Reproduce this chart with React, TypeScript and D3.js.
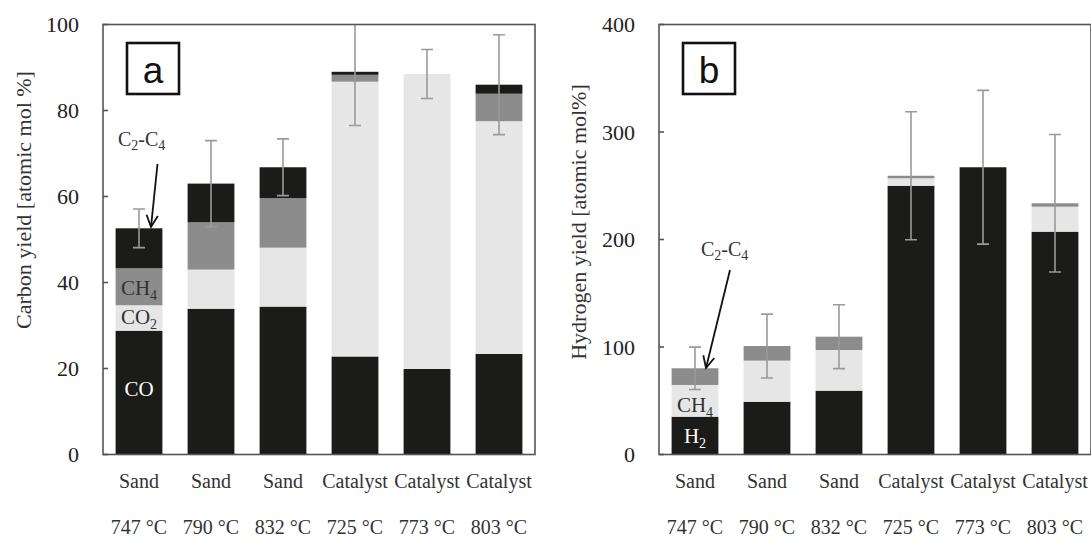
import React from "react";
import * as d3 from "d3";

const CATEGORIES = ["Sand", "Sand", "Sand", "Catalyst", "Catalyst", "Catalyst"];
const TEMPERATURES = ["747 °C", "790 °C", "832 °C", "725 °C", "773 °C", "803 °C"];

// Panel a: carbon yield [atomic mol %]
const CARBON_CO = [28.8, 33.9, 34.4, 22.8, 19.9, 23.4];
const CARBON_CO2 = [5.9, 9.1, 13.7, 63.9, 68.6, 54.1];
const CARBON_CH4 = [8.6, 11.0, 11.5, 1.6, 0, 6.4];
const CARBON_C2C4 = [9.3, 9.0, 7.2, 0.7, 0, 2.1];
const CARBON_ERR = [4.5, 10.0, 6.6, 12.5, 5.7, 11.6];
const CARBON_TICKS = [0, 20, 40, 60, 80, 100];

// Panel b: hydrogen yield [atomic mol %]
const HYDROGEN_H2 = [35.2, 49.1, 59.4, 250.0, 267.2, 207.3];
const HYDROGEN_CH4 = [29.5, 38.2, 37.8, 7.0, 0, 23.2];
const HYDROGEN_C2C4 = [15.5, 13.6, 12.4, 2.3, 0, 3.2];
const HYDROGEN_ERR = [19.7, 29.7, 29.7, 59.5, 71.5, 64.0];
const HYDROGEN_TICKS = [0, 100, 200, 300, 400];

const BLACK = "#1b1b19";
const LIGHT = "#e6e6e6";
const MID = "#8c8c8c";
const ERR = "#9a9a9a";
const FRAME = "#555";
const SERIF = "'Liberation Serif', 'Times New Roman', serif";
const SANS = "'Liberation Sans', Arial, sans-serif";

type Series = { values: number[]; color: string };
type Label = { main: string; sub: string; barIndex: number; value: number; color: string };
type Annot = { textX: number; textY: number; fromX: number; fromY: number; toX: number; toY: number };

function Panel(props: {
  id: string;
  left: number;
  right: number;
  top: number;
  bottom: number;
  yMax: number;
  ticks: number[];
  series: Series[];
  errors: number[];
  title: string;
  titleX: number;
  titleY: number;
  letter: string;
  annot: Annot;
  labels: Label[];
}) {
  const { left, right, top, bottom, yMax, ticks, series, errors } = props;
  const x = d3
    .scaleBand<number>()
    .domain(d3.range(CATEGORIES.length))
    .range([left, right])
    .paddingInner(0.35)
    .paddingOuter(0.175);
  const y = d3.scaleLinear().domain([0, yMax]).range([bottom, top]);
  const stack = d3
    .stack<number>()
    .keys(series.map((_, i) => String(i)))
    .value((idx, key) => series[+key].values[idx]);
  const stacked = stack(d3.range(CATEGORIES.length));
  const totals = d3.range(CATEGORIES.length).map((i) => d3.sum(series, (s) => s.values[i]));
  const bw = x.bandwidth();
  const cap = 6;
  const a = props.annot;
  const ang = Math.atan2(a.toY - a.fromY, a.toX - a.fromX);
  const hl = 13;
  const hw = 0.45;
  const h1 = [a.toX - hl * Math.cos(ang - hw), a.toY - hl * Math.sin(ang - hw)];
  const h2 = [a.toX - hl * Math.cos(ang + hw), a.toY - hl * Math.sin(ang + hw)];
  return (
    <g>
      <defs>
        <clipPath id={`clip-${props.id}`}>
          <rect x={left} y={top} width={right - left} height={bottom - top} />
        </clipPath>
      </defs>
      {stacked.map((layer, li) => (
        <g key={li} fill={series[li].color}>
          {layer.map((d, i) =>
            d[1] - d[0] > 0 ? (
              <rect key={i} x={x(i)} y={y(d[1])} width={bw} height={y(d[0]) - y(d[1])} />
            ) : null
          )}
        </g>
      ))}
      <g clipPath={`url(#clip-${props.id})`} stroke={ERR} strokeWidth={1.6} fill="none">
        {totals.map((t, i) => {
          const cx = (x(i) as number) + bw / 2;
          const y1 = y(t + errors[i]);
          const y2 = y(t - errors[i]);
          return (
            <g key={i}>
              <line x1={cx} x2={cx} y1={y1} y2={y2} />
              <line x1={cx - cap} x2={cx + cap} y1={y1} y2={y1} />
              <line x1={cx - cap} x2={cx + cap} y1={y2} y2={y2} />
            </g>
          );
        })}
      </g>
      <rect x={left} y={top} width={right - left} height={bottom - top} fill="none" stroke={FRAME} strokeWidth={1.6} />
      {ticks.map((t) => (
        <g key={t}>
          <line x1={left} x2={left + 5} y1={y(t)} y2={y(t)} stroke={FRAME} strokeWidth={1.6} />
          <text x={left - 24} y={y(t)} dy="0.35em" textAnchor="end" fontSize={22} fontFamily={SERIF} fill="#222">
            {t}
          </text>
        </g>
      ))}
      {CATEGORIES.map((c, i) => {
        const cx = (x(i) as number) + bw / 2;
        return (
          <g key={i} fontFamily={SERIF} fontSize={20} fill="#333" textAnchor="middle">
            <text x={cx} y={488}>{c}</text>
            <text x={cx} y={534}>{TEMPERATURES[i]}</text>
          </g>
        );
      })}
      <text
        transform={`translate(${props.titleX},${props.titleY}) rotate(-90)`}
        textAnchor="middle"
        dy="0.35em"
        fontSize={22}
        fontFamily={SERIF}
        fill="#333"
      >
        {props.title}
      </text>
      <rect x={left + 24} y={43} width={52} height={51} fill="#fff" stroke="#111" strokeWidth={2.6} />
      <text x={left + 50} y={83} textAnchor="middle" fontSize={37} fontFamily={SANS} fill="#111">
        {props.letter}
      </text>
      {props.labels.map((l, i) => (
        <text
          key={i}
          x={(x(l.barIndex) as number) + bw / 2}
          y={y(l.value)}
          textAnchor="middle"
          fontSize={21}
          fontFamily={SERIF}
          fill={l.color}
        >
          {l.main}
          {l.sub ? (
            <tspan fontSize={14} dy={5}>
              {l.sub}
            </tspan>
          ) : null}
        </text>
      ))}
      <text x={a.textX} y={a.textY} fontSize={20} fontFamily={SERIF} fill="#333">
        C<tspan fontSize={14} dy={4}>2</tspan>
        <tspan dy={-4}>-C</tspan>
        <tspan fontSize={14} dy={4}>4</tspan>
      </text>
      <line x1={a.fromX} y1={a.fromY} x2={a.toX} y2={a.toY} stroke="#111" strokeWidth={1.8} />
      <path
        d={`M${h1[0]},${h1[1]}L${a.toX},${a.toY}L${h2[0]},${h2[1]}`}
        fill="none"
        stroke="#111"
        strokeWidth={1.8}
      />
    </g>
  );
}

export default function App() {
  return (
    <div style={{ position: "absolute", left: 0, top: 0 }}>
      <svg width={1091} height={540} style={{ display: "block", background: "#fff" }}>
        <Panel
          id="a"
          left={103}
          right={535}
          top={24.5}
          bottom={454.5}
          yMax={100}
          ticks={CARBON_TICKS}
          series={[
            { values: CARBON_CO, color: BLACK },
            { values: CARBON_CO2, color: LIGHT },
            { values: CARBON_CH4, color: MID },
            { values: CARBON_C2C4, color: BLACK },
          ]}
          errors={CARBON_ERR}
          title="Carbon yield [atomic mol %]"
          titleX={23}
          titleY={200}
          letter="a"
          annot={{ textX: 118, textY: 146, fromX: 157.5, fromY: 164, toX: 151, toY: 227 }}
          labels={[
            { main: "CO", sub: "", barIndex: 0, value: 13.6, color: "#fff" },
            { main: "CO", sub: "2", barIndex: 0, value: 30.4, color: "#333" },
            { main: "CH", sub: "4", barIndex: 0, value: 37.2, color: "#333" },
          ]}
        />
        <Panel
          id="b"
          left={659}
          right={1091}
          top={24.5}
          bottom={454.5}
          yMax={400}
          ticks={HYDROGEN_TICKS}
          series={[
            { values: HYDROGEN_H2, color: BLACK },
            { values: HYDROGEN_CH4, color: LIGHT },
            { values: HYDROGEN_C2C4, color: MID },
          ]}
          errors={HYDROGEN_ERR}
          title="Hydrogen yield [atomic mol%]"
          titleX={578}
          titleY={222}
          letter="b"
          annot={{ textX: 701, textY: 256, fromX: 730, fromY: 270, toX: 706, toY: 368 }}
          labels={[
            { main: "H", sub: "2", barIndex: 0, value: 10.5, color: "#fff" },
            { main: "CH", sub: "4", barIndex: 0, value: 40, color: "#333" },
          ]}
        />
      </svg>
    </div>
  );
}
